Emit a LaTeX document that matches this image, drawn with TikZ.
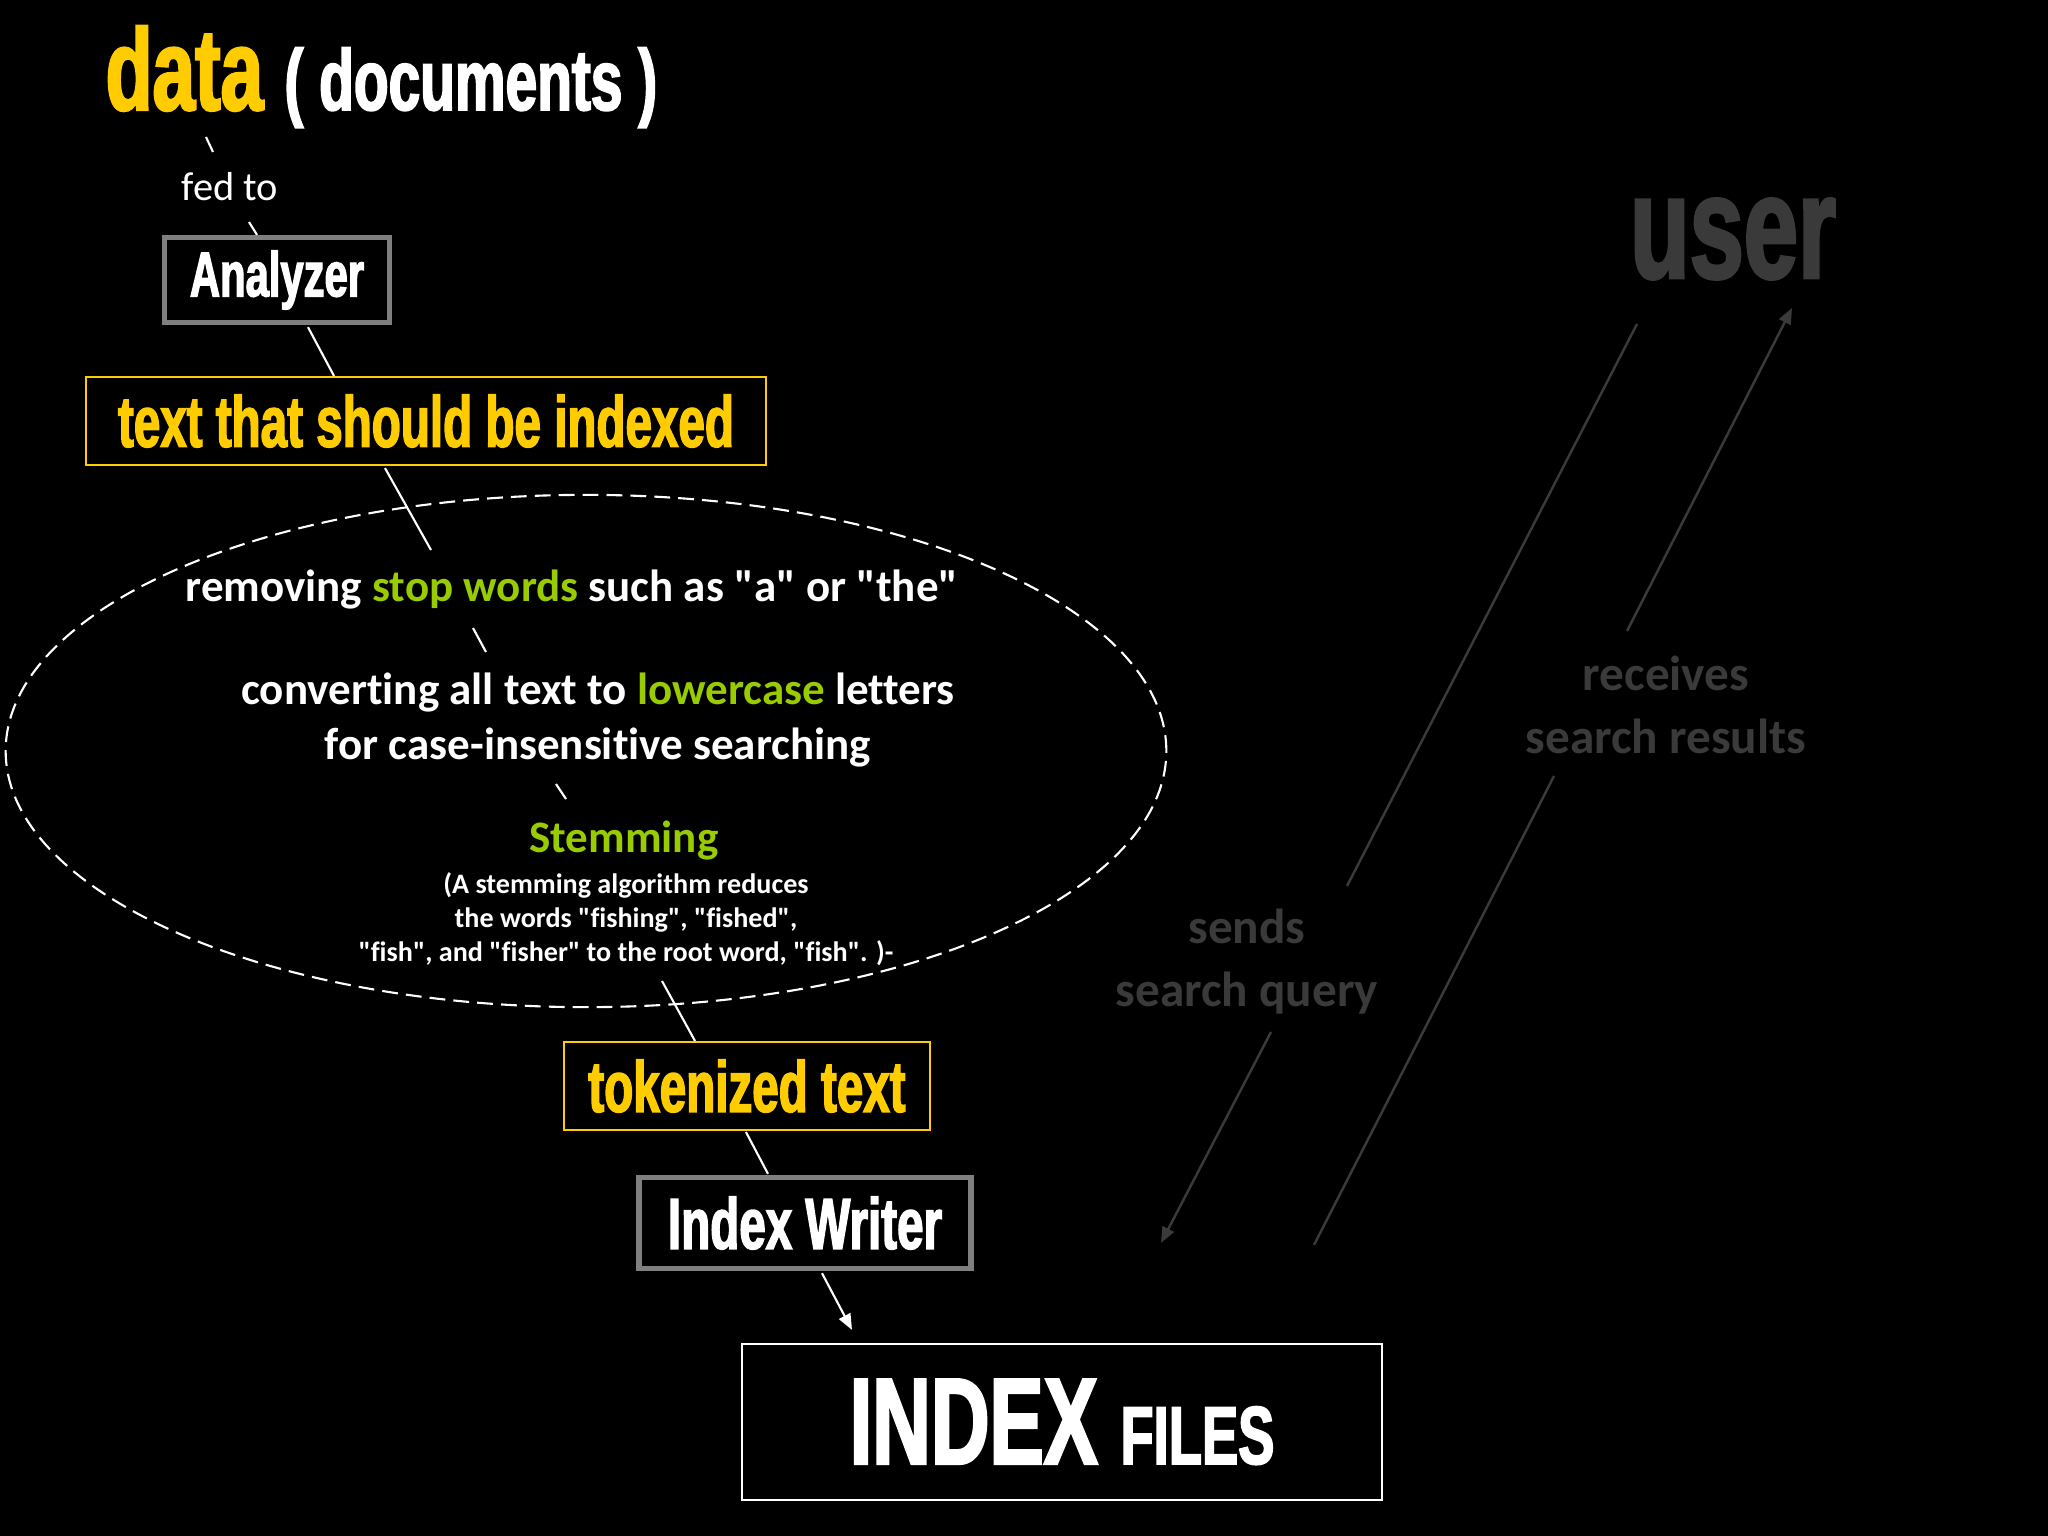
\documentclass[tikz,border=0pt]{standalone}
\usepackage{fontspec}
\setmainfont{Carlito}[Ligatures=NoCommon]
\newfontfamily\headfont[FakeStretch=0.66,FakeBold=2]{Liberation Sans}
\usetikzlibrary{arrows.meta}
\definecolor{luyellow}{HTML}{FFCC00}
\definecolor{lugreen}{HTML}{99CC00}
\definecolor{boxgray}{HTML}{7F7F7F}
\definecolor{dimgray}{HTML}{3A3A3A}
\newcommand\qt{\textquotedbl}
\begin{document}
\begin{tikzpicture}[x=0.01cm,y=-0.01cm]
\tikzstyle{link}=[draw=white,line width=0.6pt]
\tikzstyle{grayline}=[draw=dimgray,line width=0.7pt]
\tikzstyle{tip}=[-{Triangle[length=4.5pt,width=3.6pt]}]
\tikzstyle{graybox}=[draw=boxgray,line width=1.5pt,inner sep=0pt,text=white,font=\headfont\bfseries\fontsize{18}{20}\selectfont]
\tikzstyle{yellowbox}=[draw=luyellow,line width=0.6pt,inner sep=0pt,text=luyellow,font=\headfont\bfseries\fontsize{20.5}{22}\selectfont]
\tikzstyle{note}=[inner sep=0pt,text=white,align=center,font=\bfseries\fontsize{12.8}{15.65}\selectfont]
\tikzstyle{glabel}=[inner sep=0pt,text=dimgray,align=center,font=\bfseries\fontsize{14}{17.9}\selectfont]
\fill[black] (0,0) rectangle (2048,1536);
% left chain
\draw (105,110) node[anchor=base west,inner sep=0pt,font=\headfont\bfseries] (data)
  {\color{luyellow}\fontsize{33}{35}\selectfont data \color{white}\fontsize{24.5}{26}\selectfont( documents )};
\draw (230,187) node[inner sep=0pt,text=white,font=\fontsize{11.5}{13}\selectfont] (fedto) {fed to};
\draw (277,280) node[graybox,minimum width=2.25cm,minimum height=0.85cm] (anl) {Analyzer};
\draw (426,421) node[yellowbox,minimum width=6.8cm,minimum height=0.88cm] (tsi) {text that should be indexed};
\draw[white,line width=0.6pt,dash pattern=on 4.5pt off 2.3pt] (586,751) ellipse [x radius=5.8cm,y radius=2.56cm];
\draw (572,590) node[note] (rem) {removing \textcolor{lugreen}{stop words} such as \qt a\qt{} or \qt the\qt};
\draw (598,720) node[note] (conv) {converting all text to \textcolor{lugreen}{lowercase} letters\\for case-insensitive searching};
\draw (624,841) node[note,text=lugreen] (stem) {Stemming};
\draw (626,919) node[note,font=\bfseries\fontsize{8}{9.7}\selectfont] (stemnote)
  {(A stemming algorithm reduces\\ the words \qt fishing\qt, \qt fished\qt,\\\qt fish\qt, and \qt fisher\qt{} to the root word, \qt fish\qt. )-};
\draw (747,1086) node[yellowbox,minimum width=3.66cm,minimum height=0.88cm] (tok) {tokenized text};
\draw (805,1223) node[graybox,minimum width=3.32cm,minimum height=0.91cm,font=\headfont\bfseries\fontsize{20.5}{22}\selectfont] (iw) {Index Writer};
\draw (1062,1422) node[draw=white,line width=0.6pt,inner sep=0pt,minimum width=6.39cm,minimum height=1.56cm,text=white,font=\headfont\bfseries] (idx)
  {\fontsize{35}{38}\selectfont INDEX \fontsize{23.4}{26}\selectfont FILES};
% right side
\draw (1733,278) node[anchor=base,inner sep=0pt,text=dimgray,font=\headfont\bfseries\fontsize{42}{46}\selectfont] (user) {user};
\draw (1247,962) node[glabel] (sends) {sends\\search query};
\draw (1666,705) node[glabel] (recv) {receives\\search results};
% connectors
\draw[link] ([shift={(101,27)}]data.base west) -- ([shift={(-17,-35)}]fedto.center);
\draw[link] ([shift={(19,35)}]fedto.center) -- ([shift={(-20,0)}]anl.north);
\draw[link] ([shift={(31,2)}]anl.south) -- ([shift={(-92,0)}]tsi.north);
\draw[link] ([shift={(-41,2)}]tsi.south) -- ([shift={(-141,-40)}]rem.center);
\draw[link] ([shift={(-99,38)}]rem.center) -- ([shift={(-112,-68)}]conv.center);
\draw[link] ([shift={(-42,64)}]conv.center) -- ([shift={(-58,-42)}]stem.center);
\draw[link] ([shift={(36,62)}]stemnote.center) -- ([shift={(-52,0)}]tok.north);
\draw[link] ([shift={(-1,1)}]tok.south) -- ([shift={(-37,-1)}]iw.north);
\draw[link,tip,white] ([shift={(17,2)}]iw.south) -- ([shift={(-210,-13)}]idx.north);
\draw[grayline] ([shift={(-96,46)}]user.base) -- ([shift={(100,-76)}]sends.center);
\draw[grayline,tip,dimgray] ([shift={(24,70)}]sends.center) -- ([shift={(99,-100)}]idx.north);
\draw[grayline] ([shift={(252,-98)}]idx.north) -- ([shift={(-112,71)}]recv.center);
\draw[grayline,tip,dimgray] ([shift={(-39,-74)}]recv.center) -- ([shift={(59,30)}]user.base);
\end{tikzpicture}
\end{document}
